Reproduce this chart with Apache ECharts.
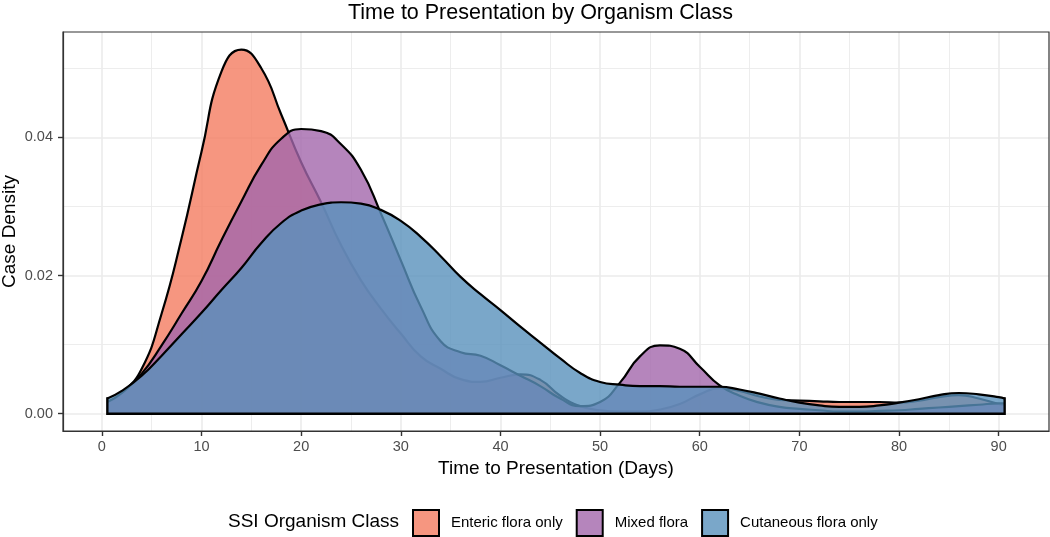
<!DOCTYPE html>
<html>
<head>
<meta charset="utf-8">
<script src="https://cdn.jsdelivr.net/npm/echarts@6.0.0/dist/echarts.min.js"></script>
<style>
  html, body { margin: 0; padding: 0; background: #ffffff; }
  #chart { width: 1050px; height: 537px; }
</style>
</head>
<body>
<div id="chart"></div>
<script>
// ---------- data ----------
const categories = ['Enteric flora only', 'Mixed flora', 'Cutaneous flora only'];

// evaluation positions (days) shared by the three density curves
const days = [0.55, 2, 4, 6, 8, 10, 12, 14, 16, 18, 20, 22, 24, 26, 28, 30, 32, 34, 36, 38, 40, 42, 44, 46, 48, 50, 52, 54, 56, 58, 60, 62, 64, 66, 68, 70, 72, 74, 76, 78, 80, 82, 84, 86, 88, 90, 90.6];

const entericDensity = [0.0017, 0.0030, 0.0065, 0.0145, 0.0254, 0.0379, 0.0495, 0.0527, 0.0500, 0.0433, 0.0364, 0.0306, 0.0244, 0.0193, 0.0152, 0.0116, 0.0083, 0.0065, 0.0050, 0.0046, 0.0052, 0.0057, 0.0049, 0.0026, 0.0011, 0.0005, 0.0003, 0.0003, 0.0006, 0.0014, 0.0028, 0.0037, 0.0033, 0.0025, 0.0020, 0.0019, 0.0018, 0.0017, 0.0017, 0.0017, 0.0016, 0.0019, 0.0024, 0.0027, 0.0022, 0.0014, 0.0012];

const mixedDensity = [0.0017, 0.0030, 0.0058, 0.0099, 0.0145, 0.0192, 0.0251, 0.0307, 0.0360, 0.0398, 0.0412, 0.0409, 0.0390, 0.0353, 0.0290, 0.0222, 0.0155, 0.0105, 0.0089, 0.0084, 0.0070, 0.0055, 0.0040, 0.0022, 0.0011, 0.0017, 0.0045, 0.0083, 0.0099, 0.0094, 0.0068, 0.0041, 0.0026, 0.0016, 0.0010, 0.0007, 0.0005, 0.0003, 0.0003, 0.0004, 0.0005, 0.0007, 0.0009, 0.0011, 0.0013, 0.0015, 0.0015];

const cutaneousDensity = [0.0022, 0.0033, 0.0055, 0.0084, 0.0115, 0.0146, 0.0179, 0.0211, 0.0247, 0.0276, 0.0294, 0.0303, 0.0306, 0.0304, 0.0295, 0.0279, 0.0256, 0.0228, 0.0198, 0.0173, 0.0150, 0.0126, 0.0103, 0.0080, 0.0059, 0.0046, 0.0042, 0.0040, 0.0040, 0.0039, 0.0039, 0.0039, 0.0035, 0.0029, 0.0022, 0.0016, 0.0012, 0.0010, 0.0010, 0.0012, 0.0016, 0.0021, 0.0027, 0.0030, 0.0028, 0.0024, 0.0022];

const xTicks = [0, 10, 20, 30, 40, 50, 60, 70, 80, 90];
const xMinor = [5, 15, 25, 35, 45, 55, 65, 75, 85];
const yTicks = [0, 0.02, 0.04];
const yMinor = [0.01, 0.03, 0.05];

// ---------- styling ----------
const FONT = '"Liberation Sans", Arial, Helvetica, sans-serif';
const ALPHA = 0.8;
const baseColors = ['#F47C60', '#A266AB', '#5991BB'];
function rgba(hex, a) {
  const n = parseInt(hex.slice(1), 16);
  return 'rgba(' + (n >> 16 & 255) + ',' + (n >> 8 & 255) + ',' + (n & 255) + ',' + a + ')';
}
const pairs = (xs, ys) => xs.map((x, i) => [x, ys[i]]);
const densities = [entericDensity, mixedDensity, cutaneousDensity];

const gridLineData = []
  .concat(xTicks.map(v => ({ xAxis: v, lineStyle: { color: '#EBEBEB', width: 1.6, type: 'solid' } })))
  .concat(xMinor.map(v => ({ xAxis: v, lineStyle: { color: '#EBEBEB', width: 0.9, type: 'solid' } })))
  .concat(yTicks.map(v => ({ yAxis: v, lineStyle: { color: '#EBEBEB', width: 1.6, type: 'solid' } })))
  .concat(yMinor.map(v => ({ yAxis: v, lineStyle: { color: '#EBEBEB', width: 0.9, type: 'solid' } })));

// each density layer gets its own z so that its fill covers the outlines of the layers below
const densitySeries = categories.map((name, i) => ({
  name: name,
  type: 'line',
  data: pairs(days, densities[i]),
  smooth: 0.5,
  showSymbol: false,
  symbol: 'none',
  z: 2 + i,
  lineStyle: { color: '#000000', width: 2.2 },
  itemStyle: { color: baseColors[i] },
  areaStyle: { color: baseColors[i], opacity: ALPHA },
  emphasis: { disabled: true },
  animation: false
}));

const last = days.length - 1;
const edgeSeries = {
  name: 'edge',
  type: 'line',
  data: [
    [days[0], cutaneousDensity[0]],
    [days[0], 0],
    [days[last], 0],
    [days[last], cutaneousDensity[last]]
  ],
  smooth: false,
  symbol: 'none',
  showSymbol: false,
  z: 6,
  lineStyle: { color: '#000000', width: 2.4, cap: 'square', join: 'miter' },
  emphasis: { disabled: true },
  animation: false
};

const gridSeries = {
  name: 'grid',
  type: 'line',
  data: [],
  z: 1,
  silent: true,
  markLine: {
    z: 1,
    silent: true,
    symbol: ['none', 'none'],
    label: { show: false },
    emphasis: { disabled: true },
    animation: false,
    data: gridLineData
  }
};

const chart = echarts.init(document.getElementById('chart'), null, { renderer: 'canvas' });
chart.setOption({
  animation: false,
  backgroundColor: '#ffffff',
  textStyle: { fontFamily: FONT },
  grid: {
    left: 63, right: 1, top: 32, bottom: 106,
    containLabel: false,
    outerBoundsMode: 'none',
    show: true, z: 8,
    borderColor: '#333333', borderWidth: 1.2,
    backgroundColor: 'transparent'
  },
  xAxis: {
    type: 'value',
    min: -3.9, max: 95.05,
    z: 8,
    name: 'Time to Presentation (Days)',
    nameLocation: 'middle',
    nameGap: 27,
    nameTextStyle: { fontSize: 19, color: '#000000', fontFamily: FONT },
    axisLine: { show: true, onZero: false, lineStyle: { color: '#333333', width: 1.2 } },
    axisTick: { show: true, customValues: xTicks, length: 5, lineStyle: { color: '#333333', width: 1.4 } },
    axisLabel: { customValues: xTicks, color: '#4D4D4D', fontSize: 14.5, fontFamily: FONT, margin: 8 },
    splitLine: { show: false }
  },
  yAxis: {
    type: 'value',
    min: -0.0025, max: 0.05524,
    z: 8,
    name: 'Case Density',
    nameLocation: 'middle',
    nameGap: 44,
    nameMoveOverlap: false,
    nameTextStyle: { fontSize: 19, color: '#000000', fontFamily: FONT },
    axisLine: { show: true, onZero: false, lineStyle: { color: '#333333', width: 1.2 } },
    axisTick: { show: true, customValues: yTicks, length: 5, lineStyle: { color: '#333333', width: 1.4 } },
    axisLabel: { customValues: yTicks, color: '#4D4D4D', fontSize: 14.5, fontFamily: FONT, margin: 10,
      formatter: v => v.toFixed(2) },
    splitLine: { show: false }
  },
  legend: {
    data: categories.map((name, i) => ({
      name: name,
      icon: 'rect',
      itemStyle: { color: rgba(baseColors[i], ALPHA), borderColor: '#000000', borderWidth: 2 }
    })),
    orient: 'horizontal',
    left: 412, top: 509,
    padding: 0,
    itemWidth: 26, itemHeight: 26,
    itemGap: 13,
    selectedMode: false,
    textStyle: { fontSize: 15, color: '#000000', fontFamily: FONT, padding: [0, 0, 0, 7] }
  },
  graphic: [
    {
      type: 'text', x: 540.5, y: 12.8, silent: true,
      style: { text: 'Time to Presentation by Organism Class', fill: '#000000',
        font: '21.5px ' + FONT, textAlign: 'center', textVerticalAlign: 'middle' }
    },
    {
      type: 'text', x: 228, y: 522, silent: true,
      style: { text: 'SSI Organism Class', fill: '#000000',
        font: '19px ' + FONT, textAlign: 'left', textVerticalAlign: 'middle' }
    }
  ],
  series: [gridSeries].concat(densitySeries).concat([edgeSeries])
});
</script>
</body>
</html>
